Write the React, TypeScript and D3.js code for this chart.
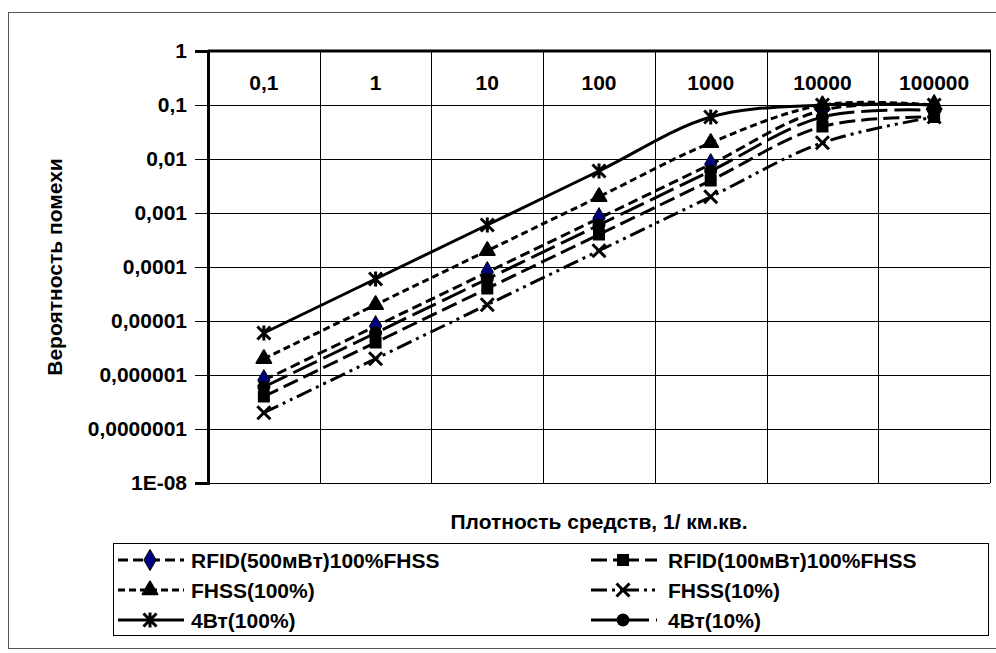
import { useEffect, useRef } from "react";
import * as d3 from "d3";

const categories = ["0,1", "1", "10", "100", "1000", "10000", "100000"];

const yTickValues = [1, 0.1, 0.01, 0.001, 0.0001, 0.00001, 0.000001, 0.0000001, 0.00000001];
const yTickLabels = ["1", "0,1", "0,01", "0,001", "0,0001", "0,00001", "0,000001", "0,0000001", "1E-08"];

const rfid500 = [8e-7, 8e-6, 8e-5, 8e-4, 8e-3, 0.08, 0.1];
const rfid100 = [4e-7, 4e-6, 4e-5, 4e-4, 4e-3, 0.04, 0.06];
const fhss100 = [2e-6, 2e-5, 2e-4, 2e-3, 0.02, 0.1, 0.1];
const fhss10 = [2e-7, 2e-6, 2e-5, 2e-4, 2e-3, 0.02, 0.06];
const w4_100 = [6e-6, 6e-5, 6e-4, 6e-3, 0.06, 0.1, 0.1];
const w4_10 = [6e-7, 6e-6, 6e-5, 6e-4, 6e-3, 0.06, 0.08];

type Series = {
  name: string;
  values: number[];
  marker: string;
  dash: string;
  fill: string;
};

const series: Series[] = [
  { name: "RFID(500мВт)100%FHSS", values: rfid500, marker: "diamond", dash: "10,5", fill: "#000080" },
  { name: "RFID(100мВт)100%FHSS", values: rfid100, marker: "square", dash: "16,6", fill: "#000" },
  { name: "FHSS(100%)", values: fhss100, marker: "triangle", dash: "7,4", fill: "#000" },
  { name: "FHSS(10%)", values: fhss10, marker: "x", dash: "16,5,3,5,3,5", fill: "#000" },
  { name: "4Вт(100%)", values: w4_100, marker: "asterisk", dash: "none", fill: "#000" },
  { name: "4Вт(10%)", values: w4_10, marker: "circle", dash: "26,7", fill: "#000" },
];

const FONT = "'Liberation Sans', Arial, sans-serif";
const FS = 21;

function drawMarker(g: d3.Selection<SVGGElement, unknown, null, undefined>, type: string, cx: number, cy: number, fill: string) {
  if (type === "diamond") {
    g.append("path").attr("d", d3.symbol(d3.symbolDiamond, 130)()).attr("transform", `translate(${cx},${cy})`)
      .attr("fill", fill).attr("stroke", "#000").attr("stroke-width", 1);
  } else if (type === "square") {
    g.append("rect").attr("x", cx - 6).attr("y", cy - 6).attr("width", 12).attr("height", 12).attr("fill", "#000");
  } else if (type === "triangle") {
    g.append("path").attr("d", d3.symbol(d3.symbolTriangle, 95)()).attr("transform", `translate(${cx},${cy})`)
      .attr("fill", "#000").attr("stroke", "#000").attr("stroke-width", 2).attr("stroke-linejoin", "round");
  } else if (type === "circle") {
    g.append("circle").attr("cx", cx).attr("cy", cy).attr("r", 6.5).attr("fill", "#000");
  } else {
    const s = 6.5;
    g.append("path")
      .attr("d", `M${cx - s},${cy - s}L${cx + s},${cy + s}M${cx - s},${cy + s}L${cx + s},${cy - s}` +
        (type === "asterisk" ? `M${cx},${cy - s - 1}L${cx},${cy + s + 1}` : ""))
      .attr("stroke", "#000").attr("stroke-width", 3).attr("fill", "none");
  }
}

export default function App() {
  const svgRef = useRef<SVGSVGElement | null>(null);

  useEffect(() => {
    if (!svgRef.current) return;
    const width = 996;
    const height = 653;
    const plot = { left: 208, right: 990, top: 51, bottom: 483 };

    const svg = d3.select(svgRef.current);
    svg.selectAll("*").remove();

    svg.append("rect").attr("width", width).attr("height", height).attr("fill", "#fff");
    // outer chart border
    svg.append("rect").attr("x", 8.5).attr("y", 12.5).attr("width", 1000).attr("height", 636)
      .attr("fill", "none").attr("stroke", "#555").attr("stroke-width", 1);

    const xScale = d3.scaleBand<string>().domain(categories).range([plot.left, plot.right]);
    const yScale = d3.scaleLog().domain([1e-8, 1]).range([plot.bottom, plot.top]);
    const cx = (c: string) => (xScale(c) as number) + xScale.bandwidth() / 2;

    // gridlines
    const grid = svg.append("g").attr("stroke", "#000").attr("stroke-width", 1);
    yTickValues.slice(1, -1).forEach((v) => {
      const y = Math.round(yScale(v)) + 0.5;
      grid.append("line").attr("x1", plot.left).attr("x2", plot.right).attr("y1", y).attr("y2", y);
    });
    categories.slice(1).forEach((c) => {
      const x = Math.round(xScale(c) as number) + 0.5;
      grid.append("line").attr("x1", x).attr("x2", x).attr("y1", plot.top).attr("y2", plot.bottom);
    });
    // right and bottom borders
    grid.append("line").attr("x1", plot.right + 0.5).attr("x2", plot.right + 0.5).attr("y1", plot.top).attr("y2", plot.bottom);
    grid.append("line").attr("x1", plot.left).attr("x2", plot.right).attr("y1", plot.bottom + 0.5).attr("y2", plot.bottom + 0.5);

    // y axis
    const yAxis = svg.append("g").attr("transform", `translate(${plot.left},0)`)
      .call(d3.axisLeft(yScale).tickValues(yTickValues).tickSize(13).tickPadding(8)
        .tickFormat((_, i) => yTickLabels[i]));
    yAxis.select(".domain").attr("stroke-width", 3);
    yAxis.selectAll("line").attr("stroke-width", 1);
    yAxis.selectAll("text").attr("font-family", FONT).attr("font-size", FS).attr("font-weight", "bold").attr("fill", "#000");

    // top x axis line
    svg.append("line").attr("x1", plot.left).attr("x2", plot.right + 1).attr("y1", plot.top).attr("y2", plot.top)
      .attr("stroke", "#000").attr("stroke-width", 3);

    // x category labels (below top axis)
    svg.append("g").selectAll("text").data(categories).join("text")
      .attr("x", (d) => cx(d)).attr("y", 90).attr("text-anchor", "middle")
      .attr("font-family", FONT).attr("font-size", FS).attr("font-weight", "bold").text((d) => d);

    // series
    const line = d3.line<number>()
      .x((_, i) => cx(categories[i]))
      .y((d) => yScale(d))
      .curve(d3.curveCatmullRom.alpha(0.5));

    series.forEach((s) => {
      svg.append("path").attr("d", line(s.values)).attr("fill", "none").attr("stroke", "#000")
        .attr("stroke-width", 3).attr("stroke-dasharray", s.dash);
    });
    series.forEach((s) => {
      const g = svg.append("g");
      s.values.forEach((v, i) => drawMarker(g, s.marker, cx(categories[i]), yScale(v), s.fill));
    });

    // axis titles
    svg.append("text").attr("x", (plot.left + plot.right) / 2).attr("y", 529).attr("text-anchor", "middle")
      .attr("font-family", FONT).attr("font-size", FS).attr("font-weight", "bold").text("Плотность средств, 1/ км.кв.");
    svg.append("text").attr("transform", `translate(62,${(plot.top + plot.bottom) / 2}) rotate(-90)`)
      .attr("text-anchor", "middle").attr("font-family", FONT).attr("font-size", FS).attr("font-weight", "bold")
      .text("Вероятность помехи");

    // legend
    svg.append("rect").attr("x", 113.5).attr("y", 543.5).attr("width", 875).attr("height", 92)
      .attr("fill", "#fff").attr("stroke", "#000").attr("stroke-width", 1);
    series.forEach((s, i) => {
      const col = i % 2;
      const row = Math.floor(i / 2);
      const mx = col === 0 ? 150 : 623;
      const tx = col === 0 ? 191 : 668;
      const y0 = 560 + row * 30;
      const g = svg.append("g");
      g.append("line").attr("x1", mx - 32).attr("x2", mx).attr("y1", y0).attr("y2", y0)
        .attr("stroke", "#000").attr("stroke-width", 3).attr("stroke-dasharray", s.dash);
      g.append("line").attr("x1", mx).attr("x2", mx + 34).attr("y1", y0).attr("y2", y0)
        .attr("stroke", "#000").attr("stroke-width", 3).attr("stroke-dasharray", s.dash);
      drawMarker(g, s.marker, mx, y0, s.fill);
      g.append("text").attr("x", tx).attr("y", y0 + 7.5).attr("font-family", FONT).attr("font-size", FS)
        .attr("font-weight", "bold").text(s.name);
    });
  }, []);

  return (
    <div style={{ position: "fixed", left: 0, top: 0 }}>
      <svg ref={svgRef} width={996} height={653} style={{ display: "block" }}></svg>
    </div>
  );
}
